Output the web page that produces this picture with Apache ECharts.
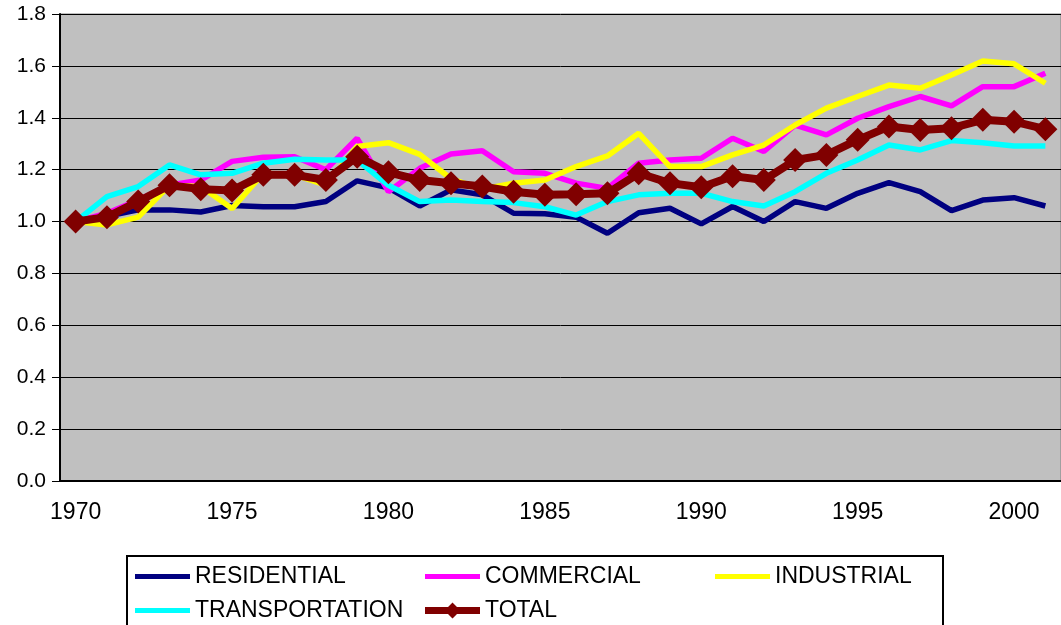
<!DOCTYPE html>
<html>
<head>
<meta charset="utf-8">
<script src="https://cdn.jsdelivr.net/npm/echarts@6/dist/echarts.min.js"></script>
<style>
  html, body { margin: 0; padding: 0; background: #ffffff; }
  #chart { width: 1061px; height: 625px; }
</style>
</head>
<body>
<div id="chart"></div>
<script>
// Energy use by sector, indexed to 1970 = 1.0
const years = [];
for (let y = 1970; y <= 2001; y++) years.push(String(y));

const residential = [1.00, 1.02, 1.045, 1.045, 1.037, 1.062, 1.057, 1.057, 1.077, 1.157,
  1.13, 1.06, 1.122, 1.103, 1.032, 1.03, 1.017, 0.955, 1.034, 1.051,
  0.991, 1.058, 1.0, 1.077, 1.051, 1.109, 1.15, 1.115, 1.042, 1.083,
  1.092, 1.06];
const commercial = [1.00, 1.032, 1.083, 1.14, 1.16, 1.232, 1.248, 1.25, 1.2, 1.321,
  1.115, 1.205, 1.26, 1.273, 1.192, 1.186, 1.148, 1.128, 1.225, 1.237,
  1.244, 1.321, 1.27, 1.372, 1.334, 1.398, 1.443, 1.482, 1.446, 1.52,
  1.52, 1.572];
const industrial = [1.00, 0.987, 1.017, 1.14, 1.135, 1.05, 1.186, 1.18, 1.14, 1.289,
  1.304, 1.259, 1.165, 1.125, 1.148, 1.16, 1.212, 1.253, 1.34, 1.212,
  1.212, 1.257, 1.295, 1.372, 1.437, 1.482, 1.526, 1.514, 1.565, 1.619,
  1.608, 1.533];
const transportation = [1.00, 1.096, 1.135, 1.218, 1.18, 1.186, 1.225, 1.24, 1.237, 1.237,
  1.14, 1.077, 1.083, 1.077, 1.073, 1.057, 1.025, 1.077, 1.103, 1.109,
  1.109, 1.077, 1.06, 1.115, 1.186, 1.237, 1.295, 1.276, 1.312, 1.304,
  1.291, 1.291];
const total = [1.00, 1.017, 1.077, 1.14, 1.125, 1.12, 1.18, 1.18, 1.16, 1.25,
  1.19, 1.16, 1.148, 1.135, 1.115, 1.103, 1.105, 1.109, 1.186, 1.148,
  1.132, 1.175, 1.16, 1.237, 1.257, 1.315, 1.366, 1.353, 1.36, 1.392,
  1.385, 1.356];

const FONT = '"Liberation Sans", Arial, sans-serif';

// Legend glyphs: a plain bar, and a bar with a diamond for the TOTAL series.
// The leading moves fix the glyph's bounding box so the bar keeps its thickness.
const BAR_ICON = 'path://M0,0 M55,20 M0,7.5 L55,7.5 L55,12.5 L0,12.5 Z';
const TOTAL_ICON = 'path://M0,0 M55,20 M0,6.5 L23,6.5 L27.5,2 L32,6.5 L55,6.5 L55,13.5 L32,13.5 L27.5,18 L23,13.5 L0,13.5 Z';

function lineSeries(name, data, color) {
  return {
    name: name,
    type: 'line',
    data: data,
    symbol: 'none',
    lineStyle: { color: color, width: 5.5 },
    itemStyle: { color: color },
    emphasis: { disabled: true },
    animation: false
  };
}

const chart = echarts.init(document.getElementById('chart'), null, { renderer: 'canvas' });
chart.setOption({
  backgroundColor: '#ffffff',
  animation: false,
  grid: {
    left: 60, right: 0, top: 14, bottom: 144,
    show: true, backgroundColor: '#c0c0c0', borderWidth: 1, borderColor: '#808080'
  },
  xAxis: {
    type: 'category',
    data: years,
    boundaryGap: true,
    axisLine: { lineStyle: { color: '#000', width: 2 } },
    axisTick: { interval: 0, length: 6, lineStyle: { color: '#000', width: 1 } },
    axisLabel: { interval: 4, margin: 20, color: '#000', fontSize: 23, fontFamily: FONT },
    splitLine: { show: false }
  },
  yAxis: {
    type: 'value',
    min: 0, max: 1.8, interval: 0.2,
    axisLine: { show: true, lineStyle: { color: '#000', width: 2 } },
    axisTick: { show: true, length: 8, lineStyle: { color: '#000' } },
    axisLabel: {
      margin: 14, color: '#000', fontSize: 21, fontFamily: FONT,
      formatter: v => v.toFixed(1)
    },
    splitLine: { show: true, lineStyle: { color: '#000', width: 1 } }
  },
  legend: {
    left: 127, top: 556, width: 900,
    orient: 'horizontal',
    padding: [9, 8, 9, 8],
    borderColor: '#000', borderWidth: 2,
    backgroundColor: '#fff',
    itemWidth: 55, itemHeight: 20, itemGap: 11,
    textStyle: { color: '#000', fontSize: 23, fontFamily: FONT, width: 219, lineHeight: 20, overflow: 'none' },
    selectedMode: false,
    data: [
      { name: 'RESIDENTIAL', icon: BAR_ICON },
      { name: 'COMMERCIAL', icon: BAR_ICON },
      { name: 'INDUSTRIAL', icon: BAR_ICON, textStyle: { width: 160 } },
      { name: 'TRANSPORTATION', icon: BAR_ICON },
      { name: 'TOTAL', icon: TOTAL_ICON }
    ]
  },
  series: [
    lineSeries('RESIDENTIAL', residential, '#000080'),
    lineSeries('COMMERCIAL', commercial, '#ff00ff'),
    lineSeries('INDUSTRIAL', industrial, '#ffff00'),
    lineSeries('TRANSPORTATION', transportation, '#00ffff'),
    {
      name: 'TOTAL',
      type: 'line',
      data: total,
      symbol: 'diamond',
      symbolSize: 24,
      showAllSymbol: true,
      lineStyle: { color: '#800000', width: 8 },
      itemStyle: { color: '#800000' },
      emphasis: { disabled: true },
      animation: false
    }
  ]
});
</script>
</body>
</html>
